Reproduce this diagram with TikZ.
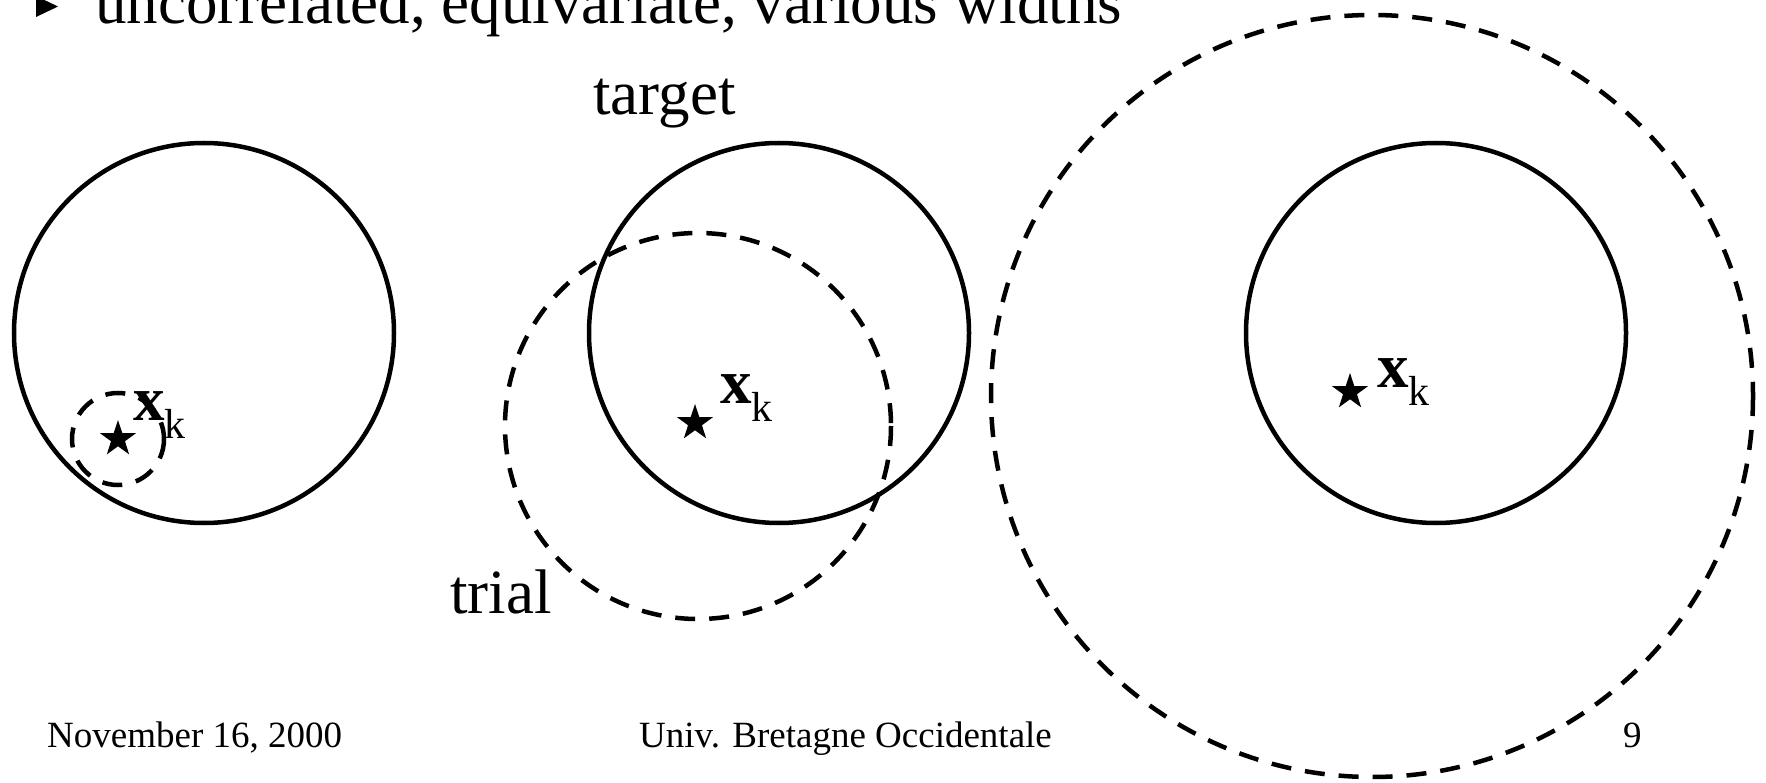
\documentclass[tikz,border=0pt]{standalone}
\usepackage{fontspec}
\setmainfont{Liberation Serif}
\usetikzlibrary{shapes.geometric}
\newcommand{\myxk}{\textbf{x}\raisebox{-18pt}{\fontsize{42pt}{44pt}\selectfont k}}
\tikzset{
  ring/.style={line width=4.5pt},
  dring/.style={line width=4.5pt, dash pattern=on 20pt off 14pt},
  starmark/.style={star, star points=5, star point ratio=2.6, fill=black, inner sep=0pt, minimum size=38pt},
  bigtxt/.style={anchor=base west, inner sep=0pt, font=\fontsize{63pt}{70pt}\selectfont},
  foot/.style={anchor=base west, inner sep=0pt, font=\fontsize{37pt}{40pt}\selectfont},
  lbl/.style={anchor=base west, inner sep=0pt, font=\fontsize{63pt}{70pt}\selectfont}
}
\begin{document}
\begin{tikzpicture}[x=1pt,y=-1pt]
\useasboundingbox (0,0) rectangle (1766,783);
% title
\fill (36,-4) -- (36,17) -- (58,6.5) -- cycle;
\node[bigtxt] (title) at (95,24) {uncorrelated, equivariate, various widths};
% centers
\coordinate (c1) at (204,333);
\coordinate (c2) at (779,333);
\coordinate (c3) at (1436,333);
\coordinate (d1) at (118,439);
\coordinate (d2) at (698,426);
\coordinate (d3) at (1372,396);
% solid target circles
\draw[ring] (c1) circle[radius=190];
\draw[ring] (c2) circle[radius=190];
\draw[ring] (c3) circle[radius=190];
% dashed trial circles
\draw[dring] (d1) circle[radius=46];
\draw[dring] (d2) circle[radius=193];
\draw[dring] (d3) circle[radius=381];
% stars
\node[starmark] (s1) at (118,439) {};
\node[starmark] (s2) at (695,423) {};
\node[starmark] (s3) at (1350,392) {};
% labels
\node[lbl] (x1) at (133,420) {\myxk};
\node[lbl] (x2) at (720,403) {\myxk};
\node[lbl] (x3) at (1377,387) {\myxk};
\node[bigtxt] (target) at (593,115) {target};
\node[bigtxt] (trial) at (450,613) {trial};
% footer
\node[foot] (date) at (47,747) {November 16, 2000};
\node[foot] (univ) at (639,747) {Univ. Bretagne Occidentale};
\node[foot] (page) at (1623,747) {9};
\end{tikzpicture}
\end{document}
